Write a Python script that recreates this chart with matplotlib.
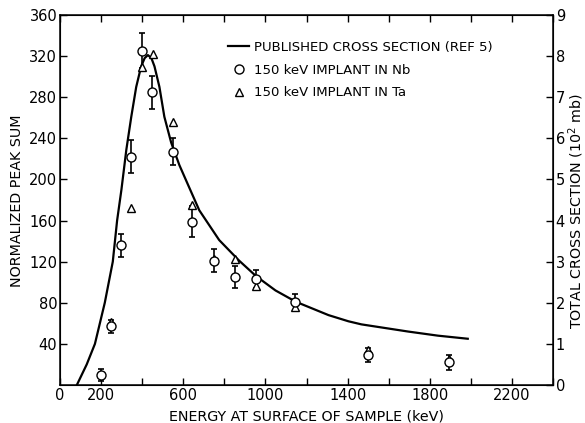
import matplotlib
matplotlib.use("Agg")
import matplotlib.pyplot as plt

# Published cross section curve (keV, normalized peak sum)
curve_E = [82, 130, 170, 218, 257, 278, 299, 323, 347, 371, 395, 412, 428, 445, 460,
           484, 508, 541, 581, 614, 678, 775, 872, 954, 1049, 1148, 1307, 1404,
           1467, 1695, 1840, 1985]
curve_V = [0, 20, 40, 80, 120, 160, 190, 229, 261, 290, 310, 318, 321, 318, 310,
           290, 261, 236, 214, 199, 170, 141, 121, 106, 92, 81, 68, 62,
           59, 52, 48, 45]

# 150 keV implant in Nb (circles)
nb_E = [202, 248, 299, 344, 400, 449, 548, 645, 751, 852, 952, 1146, 1497, 1893]
nb_V = [10, 57, 136, 222, 325, 285, 227, 159, 121, 105, 103, 81, 29, 22]
nb_err = [6, 6, 11, 16, 17, 16, 13, 15, 11, 11, 9, 8, 7, 7]

# 150 keV implant in Ta (triangles)
ta_E = [248, 344, 400, 455, 548, 645, 751, 852, 952, 1146, 1497, 1893]
ta_V = [61, 172, 309, 322, 256, 175, 123, 123, 96, 76, 34, 25]

x_ticks = list(range(0, 2401, 200))
x_labels = ["0", "200", "", "600", "", "1000", "", "1400", "", "1800", "", "2200", ""]
y_ticks = [40, 80, 120, 160, 200, 240, 280, 320, 360]
r_ticks = list(range(0, 10))

plt.rcParams['font.family'] = ['DejaVu Sans']
fig = plt.figure(figsize=(5.85, 4.23), dpi=100)
ax = fig.add_axes([60/585, 38/423, 493/585, 370/423])

line, = ax.plot(curve_E, curve_V, color='black', lw=1.6, zorder=2,
                solid_joinstyle='round')
ax.errorbar(nb_E, nb_V, yerr=nb_err, fmt='none', ecolor='black', elinewidth=1.2,
            capsize=2.5, capthick=1.2, zorder=3)
tri, = ax.plot(ta_E, ta_V, linestyle='none', marker='^', markersize=6,
               markerfacecolor='white', markeredgecolor='black', markeredgewidth=1.0, zorder=4)
circ, = ax.plot(nb_E, nb_V, linestyle='none', marker='o', markersize=6.5,
                markerfacecolor='white', markeredgecolor='black', markeredgewidth=1.0, zorder=5)

ax.set_xlim(0, 2400)
ax.set_ylim(0, 360)
ax.set_xticks(x_ticks)
ax.set_xticklabels(x_labels)
ax.set_yticks(y_ticks)
ax.tick_params(direction='in', length=5, width=1, top=True, right=False,
               labelsize=10.5, pad=2)
for s in ax.spines.values():
    s.set_linewidth(1.1)

ax.set_xlabel("ENERGY AT SURFACE OF SAMPLE (keV)", fontsize=10.3)
ax.xaxis.set_label_coords(0.5, -24/370, transform=ax.transAxes)
ax.xaxis.label.set_va('top')
ax.set_ylabel("NORMALIZED PEAK SUM", fontsize=10.3)
ax.yaxis.set_label_coords(-43/493, 0.497)
ax.yaxis.label.set_va('center')

ax2 = ax.twinx()
ax2.set_ylim(0, 9)
ax2.set_yticks(r_ticks)
ax2.tick_params(direction='in', length=5, width=1, labelsize=10.5, pad=2)
ax2.set_ylabel("TOTAL CROSS SECTION (10$^2$ mb)", fontsize=10.3)
ax2.yaxis.set_label_coords(1 + 23/493, 0.47)
ax2.yaxis.label.set_va('center')

leg = ax.legend([line, circ, tri],
                ["PUBLISHED CROSS SECTION (REF 5)",
                 "150 keV IMPLANT IN Nb",
                 "150 keV IMPLANT IN Ta"],
                loc='upper left', bbox_to_anchor=(0.33, 0.945), frameon=False,
                fontsize=9.5, handlelength=1.6, handletextpad=0.4, labelspacing=0.75,
                borderaxespad=0)

fig.savefig("out.png", dpi=100)
